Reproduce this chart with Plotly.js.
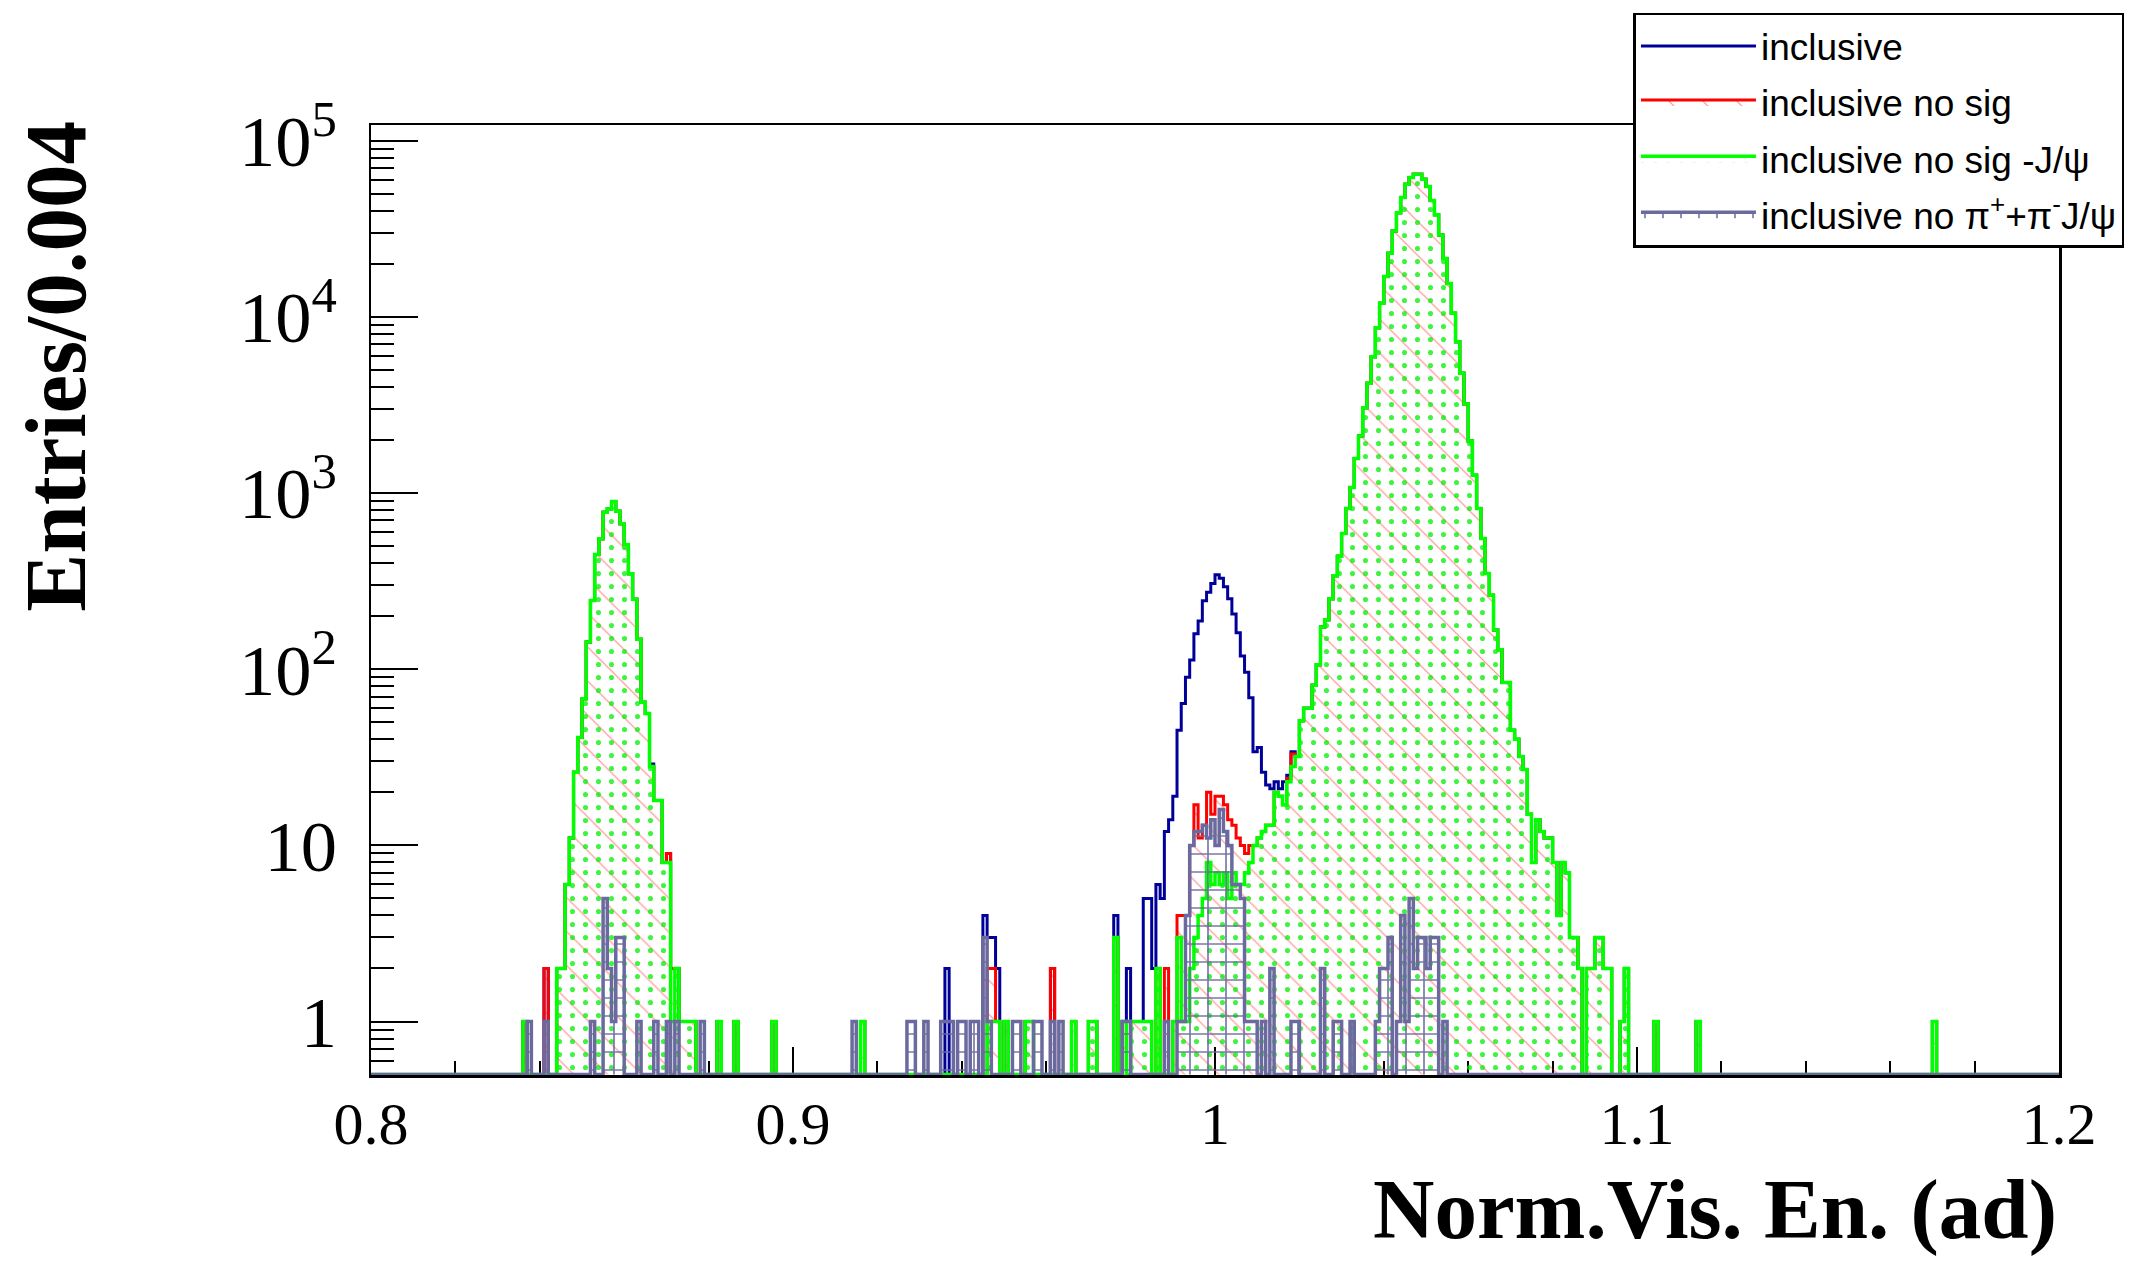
<!DOCTYPE html>
<html>
<head>
<meta charset="utf-8">
<script src="https://cdn.plot.ly/plotly-3.0.1.min.js"></script>
<style>
  html, body { margin: 0; padding: 0; background: #ffffff; }
  #chart { width: 2152px; height: 1261px; }
</style>
</head>
<body>
<div id="chart"></div>
<script>
// Histogram binning: 400 bins of width 0.001 from 0.8 to 1.2
const binLow = 0.8;
const binWidth = 0.001;

// Series names (legend labels)
const seriesNames = [
  'inclusive',
  'inclusive no sig',
  'inclusive no sig -J/\u03C8',
  'inclusive no \u03C0<sup>+</sup>+\u03C0<sup>-</sup>J/\u03C8'
];

// Counts per bin (bin i covers [0.8 + 0.001*i, 0.8 + 0.001*(i+1)))
const countsInclusive = [
  0,0,0,0,0,0,0,0,0,0,0,0,0,0,0,0,0,0,0,0,
  0,0,0,0,0,0,0,0,0,0,0,0,0,0,0,0,1,0,0,0,
  0,2,0,0,2,2,6,11,26,41,68,143,246,448,550,778,816,895,790,670,
  510,348,250,148,65,56,29,18,18,8,9,2,2,1,1,1,1,0,0,0,
  0,0,1,0,0,0,1,0,0,0,0,0,0,0,0,1,0,0,0,0,
  0,0,0,0,0,0,0,0,0,0,0,0,0,0,0,0,1,0,0,0,
  0,0,0,0,0,0,0,0,0,0,0,0,0,0,0,0,2,0,0,0,
  0,0,0,0,0,4,3,3,2,0,1,0,0,0,0,1,1,0,0,0,
  0,2,0,0,0,0,1,0,0,0,1,1,0,0,0,0,4,0,1,2,
  1,1,1,5,5,2,6,5,12,14,19,45,64,90,113,159,188,245,274,307,
  344,329,294,251,206,161,119,96,69,34,36,26,22,21,23,21,23,25,34,32,
  51,60,60,81,106,174,191,251,340,438,590,819,1077,1574,2109,3054,4198,5951,8690,11960,
  16950,23000,30800,39100,47600,56700,61900,64600,64600,60600,55000,45800,38000,29200,21500,15500,10500,7240,4790,3205,
  1974,1265,819,553,350,263,167,129,84,84,45,40,32,27,15,8,14,12,11,11,
  8,4,8,7,3,3,2,0,2,2,3,3,2,2,0,0,1,2,0,0,
  0,0,0,0,1,0,0,0,0,0,0,0,0,0,1,0,0,0,0,0,
  0,0,0,0,0,0,0,0,0,0,0,0,0,0,0,0,0,0,0,0,
  0,0,0,0,0,0,0,0,0,0,0,0,0,0,0,0,0,0,0,0,
  0,0,0,0,0,0,0,0,0,0,1,0,0,0,0,0,0,0,0,0,
  0,0,0,0,0,0,0,0,0,0,0,0,0,0,0,0,0,0,0,0
];

const countsNoSig = [
  0,0,0,0,0,0,0,0,0,0,0,0,0,0,0,0,0,0,0,0,
  0,0,0,0,0,0,0,0,0,0,0,0,0,0,0,0,1,0,0,0,
  0,2,0,0,2,2,6,11,26,41,68,143,246,448,550,778,816,895,790,670,
  510,348,250,148,65,56,28,18,18,8,9,2,2,1,1,1,1,0,0,0,
  0,0,1,0,0,0,1,0,0,0,0,0,0,0,0,1,0,0,0,0,
  0,0,0,0,0,0,0,0,0,0,0,0,0,0,0,0,1,0,0,0,
  0,0,0,0,0,0,0,0,0,0,0,0,0,0,0,0,0,0,0,0,
  0,0,0,0,0,0,2,2,1,0,1,0,0,0,0,1,1,0,0,0,
  0,2,0,0,0,0,1,0,0,0,1,1,0,0,0,0,3,0,1,0,
  1,1,1,1,1,0,2,0,2,0,1,4,4,4,10,17,11,13,20,15,
  19,19,17,14,13,11,10,9,10,10,11,12,13,13,20,19,17,24,33,32,
  51,60,60,81,106,174,191,251,340,438,590,819,1077,1574,2109,3054,4198,5951,8690,11960,
  16950,23000,30800,39100,47600,56700,61900,64600,64600,60600,55000,45800,38000,29200,21500,15500,10500,7240,4790,3205,
  1974,1265,819,553,350,263,167,129,84,84,45,40,32,27,15,8,14,12,11,11,
  8,4,8,7,3,3,2,0,2,2,3,3,2,2,0,0,1,2,0,0,
  0,0,0,0,1,0,0,0,0,0,0,0,0,0,1,0,0,0,0,0,
  0,0,0,0,0,0,0,0,0,0,0,0,0,0,0,0,0,0,0,0,
  0,0,0,0,0,0,0,0,0,0,0,0,0,0,0,0,0,0,0,0,
  0,0,0,0,0,0,0,0,0,0,1,0,0,0,0,0,0,0,0,0,
  0,0,0,0,0,0,0,0,0,0,0,0,0,0,0,0,0,0,0,0
];

const countsNoSigNoJpsi = [
  0,0,0,0,0,0,0,0,0,0,0,0,0,0,0,0,0,0,0,0,
  0,0,0,0,0,0,0,0,0,0,0,0,0,0,0,0,1,0,0,0,
  0,0,0,0,2,2,6,11,26,41,68,143,246,448,550,778,816,895,790,670,
  510,348,250,148,65,56,28,18,18,8,8,1,2,1,1,1,1,0,0,0,
  0,0,1,0,0,0,1,0,0,0,0,0,0,0,0,1,0,0,0,0,
  0,0,0,0,0,0,0,0,0,0,0,0,0,0,0,0,1,0,0,0,
  0,0,0,0,0,0,0,0,0,0,0,0,0,0,0,0,0,0,0,0,
  0,0,0,0,0,0,1,1,1,0,1,0,0,0,0,1,1,0,0,0,
  0,0,0,0,0,0,1,0,0,0,1,1,0,0,0,0,3,0,1,0,
  1,1,1,1,1,0,2,0,0,0,1,3,1,1,2,3,4,5,8,6,
  7,6,7,5,7,6,6,7,8,10,11,12,13,13,20,19,17,23,28,32,
  51,60,60,81,106,174,191,251,340,438,590,819,1077,1574,2109,3054,4198,5951,8690,11960,
  16950,23000,30800,39100,47600,56700,61900,64600,64600,60600,55000,45800,38000,29200,21500,15500,10500,7240,4790,3205,
  1974,1265,819,553,350,263,167,129,84,84,45,40,32,27,15,8,14,12,11,11,
  8,4,8,7,3,3,2,0,2,2,3,3,2,2,0,0,1,2,0,0,
  0,0,0,0,1,0,0,0,0,0,0,0,0,0,1,0,0,0,0,0,
  0,0,0,0,0,0,0,0,0,0,0,0,0,0,0,0,0,0,0,0,
  0,0,0,0,0,0,0,0,0,0,0,0,0,0,0,0,0,0,0,0,
  0,0,0,0,0,0,0,0,0,0,1,0,0,0,0,0,0,0,0,0,
  0,0,0,0,0,0,0,0,0,0,0,0,0,0,0,0,0,0,0,0
];

const countsNoPiPiJpsi = [
  0,0,0,0,0,0,0,0,0,0,0,0,0,0,0,0,0,0,0,0,
  0,0,0,0,0,0,0,0,0,0,0,0,0,0,0,0,0,1,0,0,
  0,1,0,0,0,0,0,0,0,0,0,0,1,0,0,5,2,1,3,3,
  0,0,0,1,0,0,0,1,0,0,1,0,1,0,0,0,0,0,1,0,
  0,0,0,0,0,0,0,0,0,0,0,0,0,0,0,0,0,0,0,0,
  0,0,0,0,0,0,0,0,0,0,0,0,0,0,1,0,0,0,0,0,
  0,0,0,0,0,0,0,1,1,0,0,1,0,0,0,1,1,1,0,1,
  1,0,1,1,0,3,1,0,0,0,0,0,1,1,0,0,0,1,1,0,
  0,1,0,1,0,0,0,0,0,0,0,0,0,0,0,0,0,0,1,1,
  0,0,0,0,0,0,0,0,1,0,0,1,1,4,10,12,12,13,11,14,
  10,16,12,10,6,6,5,1,1,1,0,1,0,2,0,0,0,0,1,1,
  0,0,0,0,0,2,0,0,1,1,0,0,1,0,0,0,0,0,1,2,
  2,3,0,1,4,1,5,2,3,3,2,3,3,0,1,0,0,0,0,0,
  0,0,0,0,0,0,0,0,0,0,0,0,0,0,0,0,0,0,0,0,
  0,0,0,0,0,0,0,0,0,0,0,0,0,0,0,0,0,0,0,0,
  0,0,0,0,0,0,0,0,0,0,0,0,0,0,0,0,0,0,0,0,
  0,0,0,0,0,0,0,0,0,0,0,0,0,0,0,0,0,0,0,0,
  0,0,0,0,0,0,0,0,0,0,0,0,0,0,0,0,0,0,0,0,
  0,0,0,0,0,0,0,0,0,0,0,0,0,0,0,0,0,0,0,0,
  0,0,0,0,0,0,0,0,0,0,0,0,0,0,0,0,0,0,0,0
];

// Axis settings
const xTickVals = [0.8, 0.9, 1.0, 1.1, 1.2];
const xTickText = ['0.8', '0.9', '1', '1.1', '1.2'];
const yMin = 0.497, yMax = 1.23e5;
const floorValue = 0.5; // empty bins drawn along the bottom of the log axis

// Build ROOT-like step outline (closed polygon down to the axis floor)
function stepOutline(counts) {
  const xs = [binLow], ys = [floorValue];
  for (let i = 0; i < counts.length; i++) {
    const x0 = +(binLow + i * binWidth).toFixed(4);
    const x1 = +(binLow + (i + 1) * binWidth).toFixed(4);
    const v = counts[i] > 0 ? counts[i] : floorValue;
    xs.push(x0, x1);
    ys.push(v, v);
  }
  xs.push(+(binLow + counts.length * binWidth).toFixed(4));
  ys.push(floorValue);
  return { xs, ys };
}

const sInc = stepOutline(countsInclusive);
const sNoSig = stepOutline(countsNoSig);
const sNoJ = stepOutline(countsNoSigNoJpsi);
const sNoPP = stepOutline(countsNoPiPiJpsi);

const traces = [
  {
    x: sInc.xs, y: sInc.ys, type: 'scatter', mode: 'lines',
    name: seriesNames[0], legendgroup: 'g1',
    line: { color: '#000099', width: 3, shape: 'linear' },
    hoverinfo: 'skip'
  },
  {
    x: sNoSig.xs, y: sNoSig.ys, type: 'scatter', mode: 'lines',
    name: seriesNames[1], legendgroup: 'g2',
    fill: 'toself', fillcolor: 'rgba(0,0,0,0)',
    fillpattern: { shape: '\\', fgcolor: '#ff0000', fgopacity: 0.45, size: 24, solidity: 0.05 },
    line: { color: '#ff0000', width: 3 },
    hoverinfo: 'skip'
  },
  {
    x: sNoJ.xs, y: sNoJ.ys, type: 'scatter', mode: 'lines',
    name: seriesNames[2], legendgroup: 'g3',
    fill: 'toself', fillcolor: 'rgba(0,0,0,0)',
    fillpattern: { shape: '.', fgcolor: '#00ee00', fgopacity: 0.75, size: 13, solidity: 0.12 },
    line: { color: '#00ff00', width: 3.5 },
    hoverinfo: 'skip'
  },
  {
    x: sNoPP.xs, y: sNoPP.ys, type: 'scatter', mode: 'lines',
    name: seriesNames[3], legendgroup: 'g4',
    fill: 'toself', fillcolor: 'rgba(0,0,0,0)',
    fillpattern: { shape: '+', fgcolor: '#6a6a9e', fgopacity: 0.9, size: 18, solidity: 0.18 },
    line: { color: '#6a6a9e', width: 3.5 },
    hoverinfo: 'skip'
  }
];

const layout = {
  width: 2152, height: 1261,
  margin: { l: 371, r: 93, t: 125, b: 186, pad: 0 },
  paper_bgcolor: '#ffffff',
  plot_bgcolor: '#ffffff',
  showlegend: true,
  legend: {
    x: 0.7479, y: 1.118, xanchor: 'left', yanchor: 'top',
    bgcolor: '#ffffff', bordercolor: '#000000', borderwidth: 2.5,
    font: { family: 'Liberation Sans, Arial, sans-serif', size: 37, color: '#000000' },
    itemwidth: 115, tracegroupgap: 5, traceorder: 'grouped'
  },
  xaxis: {
    range: [0.8, 1.2],
    tickvals: xTickVals, ticktext: xTickText,
    ticks: 'inside', ticklen: 28, tickwidth: 2, tickcolor: '#000000',
    minor: { dtick: 0.02, tick0: 0.8, ticks: 'inside', ticklen: 14, tickwidth: 2, tickcolor: '#000000', showgrid: false },
    showline: true, linecolor: '#000000', linewidth: 2.5, mirror: true,
    showgrid: false, zeroline: false,
    tickfont: { family: 'Liberation Serif, Times New Roman, serif', size: 60, color: '#000000' },
    ticklabelstandoff: -6,
    layer: 'below traces'
  },
  yaxis: {
    type: 'log',
    range: [Math.log10(yMin), Math.log10(yMax)],
    dtick: 1, exponentformat: 'power',
    ticks: 'inside', ticklen: 47, tickwidth: 2, tickcolor: '#000000',
    minor: { dtick: 'D1', ticks: 'inside', ticklen: 23, tickwidth: 2, tickcolor: '#000000', showgrid: false },
    showline: true, linecolor: '#000000', linewidth: 2.5, mirror: true,
    showgrid: false, zeroline: false,
    tickfont: { family: 'Liberation Serif, Times New Roman, serif', size: 58, color: '#000000' },
    ticklabelstandoff: 20,
    layer: 'below traces'
  },
  annotations: [
    {
      text: '<b>Entries/0.004</b>', xref: 'paper', yref: 'paper',
      x: -0.187, y: 0.746, xanchor: 'center', yanchor: 'middle',
      textangle: -90, showarrow: false,
      font: { family: 'Liberation Serif, Times New Roman, serif', size: 87, color: '#000000' }
    },
    {
      text: '<b>Norm.Vis. En. (ad)</b>', xref: 'paper', yref: 'paper',
      x: 1.0, y: -0.142, xanchor: 'right', yanchor: 'middle',
      showarrow: false,
      font: { family: 'Liberation Serif, Times New Roman, serif', size: 85, color: '#000000' }
    }
  ]
};

Plotly.newPlot('chart', traces, layout, { displayModeBar: false, staticPlot: true });
</script>
</body>
</html>
